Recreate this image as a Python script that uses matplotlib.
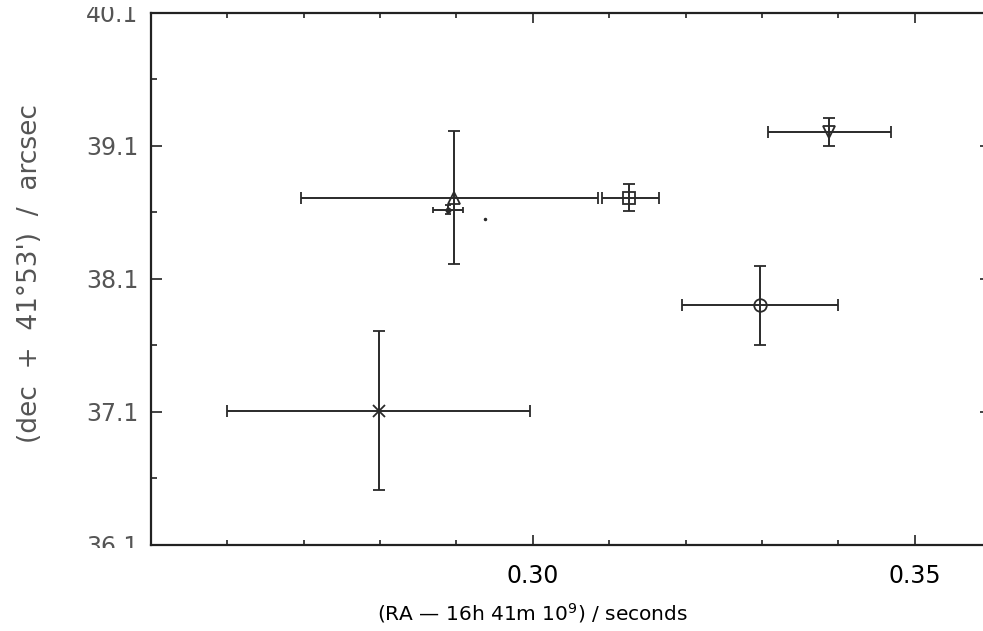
import matplotlib
matplotlib.use("Agg")
import matplotlib.pyplot as plt
from matplotlib.patches import Rectangle
import numpy as np

# ---- data ----
ra = [0.2897, 0.3126, 0.3388, 0.3297, 0.2798, 0.2889]
dec = [38.71, 38.71, 39.20, 37.90, 37.11, 38.62]
ra_err_lo = [0.0200, 0.0036, 0.0080, 0.0102, 0.0198, 0.0020]
ra_err_hi = [0.0188, 0.0039, 0.0081, 0.0102, 0.0198, 0.0020]
dec_err = [0.50, 0.10, 0.105, 0.30, 0.60, 0.035]
markers = ['^', 's', 'v', 'o', 'x', '.']
extra_ra = [0.2938]
extra_dec = [38.55]

x_major = [0.30, 0.35]
x_major_labels = ["0.30", "0.35"]
x_minor = [0.26, 0.27, 0.28, 0.29, 0.31, 0.32, 0.33, 0.34]
y_major = [36.1, 37.1, 38.1, 39.1, 40.1]
y_minor = [36.6, 37.6, 38.6, 39.6]

W, H = 983, 631
fig = plt.figure(figsize=(W / 100, H / 100), dpi=100)
left, right, top, bottom = 151, 991, 12.7, 545
ax = fig.add_axes([left / W, (H - bottom) / H, (right - left) / W, (bottom - top) / H])

col = '#2a2a2a'
for i in range(len(ra)):
    small = markers[i] == '.'
    ax.errorbar(ra[i], dec[i],
                xerr=[[ra_err_lo[i]], [ra_err_hi[i]]], yerr=[[dec_err[i]], [dec_err[i]]],
                fmt=markers[i], color=col, ecolor=col,
                mfc=col if small else 'none', mec=col,
                ms=6 if small else 9, mew=1.3,
                elinewidth=1.4, capsize=2.5 if small else 4.5, capthick=1.4)
ax.plot(extra_ra, extra_dec, '.', color=col, ms=3)

ax.set_xlim(0.25, 0.36)
ax.set_ylim(36.1, 40.1)
ax.set_xticks(x_major)
ax.set_xticklabels(x_major_labels)
ax.set_xticks(x_minor, minor=True)
ax.set_yticks(y_major)
ax.set_yticklabels([f"{v:.1f}" for v in y_major])
ax.set_yticks(y_minor, minor=True)

ax.tick_params(axis='both', which='both', direction='in', top=True, right=True,
               color='#222222')
ax.tick_params(axis='x', which='major', length=7, width=1.2, pad=14,
               labelsize=17, labelcolor='black')
ax.tick_params(axis='x', which='minor', length=3.5, width=1.2)
ax.tick_params(axis='y', which='major', length=8, width=1.2, pad=9,
               labelsize=17, labelcolor='#555555')
ax.tick_params(axis='y', which='minor', length=4.5, width=1.2)
for s in ax.spines.values():
    s.set_linewidth(1.6)
    s.set_color('#222222')

ax.set_xlabel("(RA \u2014 16h 41m 10$^{9}$) / seconds", fontsize=14.5, labelpad=8)
ax.xaxis.set_label_coords((0.30 - 0.25) / (0.36 - 0.25), -0.105)
ax.set_ylabel("(dec  +  41\u00b053')  /  arcsec", fontsize=19, color='#555555')
ax.yaxis.set_label_coords(-0.128, 0.51)

# the scan crops the top and bottom y tick labels
fig.add_artist(Rectangle((0, 0), 140 / W, (H - 548) / H, transform=fig.transFigure,
                         facecolor='white', edgecolor='none', zorder=10))
fig.add_artist(Rectangle((0, (H - 7) / H), 140 / W, 7 / H, transform=fig.transFigure,
                         facecolor='white', edgecolor='none', zorder=10))

fig.savefig("out.png", dpi=100)
